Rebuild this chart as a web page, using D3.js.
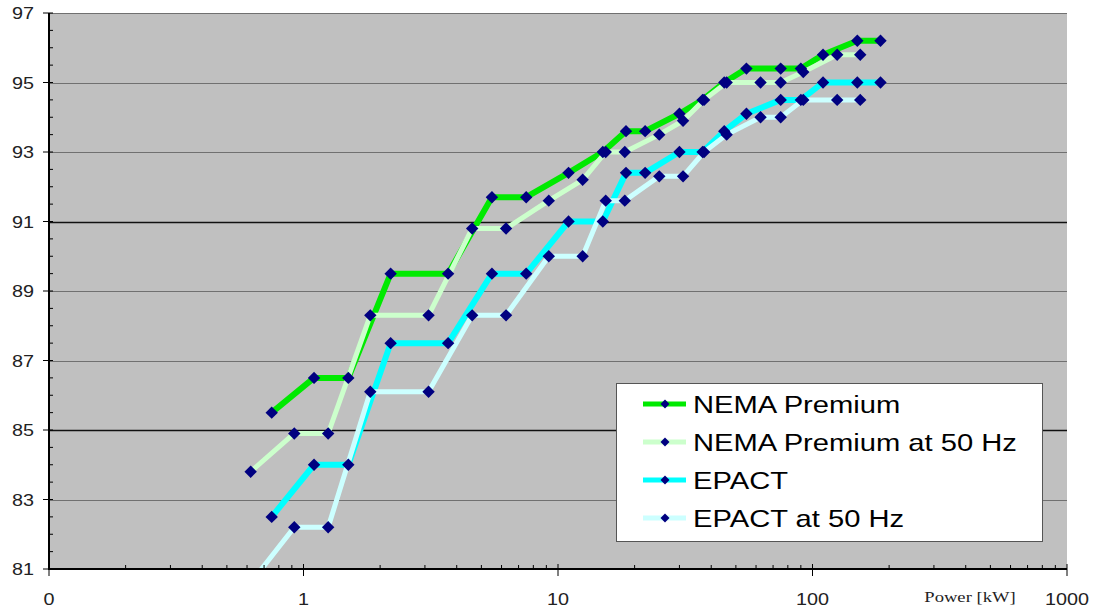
<!DOCTYPE html>
<html>
<head>
<meta charset="utf-8">
<script src="https://cdn.jsdelivr.net/npm/d3@7"></script>
<style>
  html, body { margin: 0; padding: 0; background: #ffffff; }
  svg { display: block; }
</style>
</head>
<body>
<svg id="chart" width="1099" height="611"></svg>
<script>
// ---- data ----
const kW60 = [0.75, 1.1, 1.5, 2.2, 3.7, 5.5, 7.5, 11, 15, 18.5, 22, 30, 37, 45, 55, 75, 90, 110, 150, 185];
const kW50 = [0.62, 0.92, 1.25, 1.83, 3.1, 4.6, 6.25, 9.2, 12.5, 15.4, 18.3, 25, 31, 37.5, 46, 62.5, 75, 92, 125, 154];
const nemaPremium   = [85.5, 86.5, 86.5, 89.5, 89.5, 91.7, 91.7, 92.4, 93.0, 93.6, 93.6, 94.1, 94.5, 95.0, 95.4, 95.4, 95.4, 95.8, 96.2, 96.2];
const nemaPremium50 = [83.8, 84.9, 84.9, 88.3, 88.3, 90.8, 90.8, 91.6, 92.2, 93.0, 93.0, 93.5, 93.9, 94.5, 95.0, 95.0, 95.0, 95.3, 95.8, 95.8];
const epact         = [82.5, 84.0, 84.0, 87.5, 87.5, 89.5, 89.5, 91.0, 91.0, 92.4, 92.4, 93.0, 93.0, 93.6, 94.1, 94.5, 94.5, 95.0, 95.0, 95.0];
const epact50       = [80.6, 82.2, 82.2, 86.1, 86.1, 88.3, 88.3, 90.0, 90.0, 91.6, 91.6, 92.3, 92.3, 93.0, 93.5, 94.0, 94.0, 94.5, 94.5, 94.5];
const seriesNames = ["NEMA Premium", "NEMA Premium at 50 Hz", "EPACT", "EPACT at 50 Hz"];
const xTickValues = [0.1, 1, 10, 100, 1000];
const xTickLabels = ["0", "1", "10", "100", "1000"];
const yTickValues = [81, 83, 85, 87, 89, 91, 93, 95, 97];
const xAxisTitle = "Power [kW]";

// ---- styles ----
const seriesStyle = [
  { color: "#00ea00", width: 6 },
  { color: "#ccffcc", width: 5 },
  { color: "#00ffff", width: 6 },
  { color: "#ccffff", width: 5 }
];
const markerColor = "#000080";
const SX = 1.2; // horizontal stretch of text, as in the reference

const series = [
  { name: seriesNames[0], x: kW60, y: nemaPremium },
  { name: seriesNames[1], x: kW50, y: nemaPremium50 },
  { name: seriesNames[2], x: kW60, y: epact },
  { name: seriesNames[3], x: kW50, y: epact50 }
];

const svg = d3.select("#chart");
const L = 49, R = 1067, T = 13, B = 569;

const x = d3.scaleLog().domain([0.1, 1000]).range([L, R]);
const y = d3.scaleLinear().domain([81, 97]).range([B, T]);

function stretchedText(g, tx, ty, txt, size, anchor, family, fill, sx) {
  return g.append("text")
    .attr("transform", `translate(${tx},${ty}) scale(${sx || SX},1)`)
    .attr("text-anchor", anchor)
    .attr("font-family", family)
    .attr("font-size", size)
    .attr("fill", fill)
    .text(txt);
}

// plot background
svg.append("rect").attr("x", L).attr("y", T).attr("width", R - L).attr("height", B - T)
  .attr("fill", "#c0c0c0");

// horizontal gridlines
const gridG = svg.append("g");
yTickValues.filter(v => v > 81).forEach(v => {
  const dark = (v === 91 || v === 85);
  gridG.append("line")
    .attr("x1", L).attr("x2", R)
    .attr("y1", Math.round(y(v)) + 0.5).attr("y2", Math.round(y(v)) + 0.5)
    .attr("stroke", dark ? "#111111" : "#707070")
    .attr("stroke-width", dark ? 1.3 : 1.2);
});

// clip
svg.append("clipPath").attr("id", "plotclip")
  .append("rect").attr("x", L).attr("y", T).attr("width", R - L).attr("height", B - T);

const plotG = svg.append("g").attr("clip-path", "url(#plotclip)");

const line = d3.line().x(d => x(d[0])).y(d => y(d[1]));

series.forEach((s, i) => {
  const pts = s.x.map((v, j) => [v, s.y[j]]);
  plotG.append("path")
    .datum(pts)
    .attr("d", line)
    .attr("fill", "none")
    .attr("stroke", seriesStyle[i].color)
    .attr("stroke-width", seriesStyle[i].width)
    .attr("stroke-linejoin", "round")
    .attr("stroke-linecap", "butt");
});

function diamond(r) {
  return `M0,${-r}L${r},0L0,${r}L${-r},0Z`;
}

series.forEach((s, i) => {
  const pts = s.x.map((v, j) => [v, s.y[j]]);
  plotG.selectAll(null).data(pts).enter().append("path")
    .attr("d", diamond(6.2))
    .attr("transform", d => `translate(${x(d[0])},${y(d[1])})`)
    .attr("fill", markerColor);
});

// axes
const axG = svg.append("g");
axG.append("line").attr("x1", L).attr("x2", L).attr("y1", T).attr("y2", B + 1)
  .attr("stroke", "#000").attr("stroke-width", 2);
d3.range(81, 97.01, 0.5).forEach(v => {
  axG.append("line").attr("x1", L).attr("x2", L + 4)
    .attr("y1", y(v)).attr("y2", y(v)).attr("stroke", "#000").attr("stroke-width", 1);
});
yTickValues.forEach(v => {
  axG.append("line").attr("x1", L - 6).attr("x2", L)
    .attr("y1", y(v)).attr("y2", y(v)).attr("stroke", "#000").attr("stroke-width", 1);
  stretchedText(axG, 34, y(v) + 6, String(v), 16.5, "end", "Liberation Sans, Arial, sans-serif", "#222");
});

axG.append("line").attr("x1", L - 1).attr("x2", R).attr("y1", B).attr("y2", B)
  .attr("stroke", "#000").attr("stroke-width", 2);
[0.1, 1, 10, 100].forEach(dec => {
  d3.range(2, 10).forEach(m => {
    const xv = x(dec * m);
    axG.append("line").attr("x1", xv).attr("x2", xv).attr("y1", B).attr("y2", B - 4)
      .attr("stroke", "#000").attr("stroke-width", 1);
  });
});
xTickValues.forEach((v, i) => {
  const xv = x(v);
  axG.append("line").attr("x1", xv).attr("x2", xv).attr("y1", B - 5).attr("y2", B + 7)
    .attr("stroke", "#000").attr("stroke-width", 1);
  stretchedText(axG, xv, 605, xTickLabels[i], 16.5, "middle", "Liberation Sans, Arial, sans-serif", "#222");
});
stretchedText(axG, 970, 602, xAxisTitle, 15.5, "middle", "Liberation Serif, Times New Roman, serif", "#222");

// legend
const legG = svg.append("g");
const LX = 616, LY = 383, LW = 426, LH = 158;
legG.append("rect").attr("x", LX + 0.5).attr("y", LY + 0.5).attr("width", LW).attr("height", LH)
  .attr("fill", "#ffffff").attr("stroke", "#555").attr("stroke-width", 1);
const rowY = [404, 442, 480, 518];
series.forEach((s, i) => {
  const ry = rowY[i];
  legG.append("line").attr("x1", 643).attr("x2", 686).attr("y1", ry).attr("y2", ry)
    .attr("stroke", seriesStyle[i].color).attr("stroke-width", 5);
  legG.append("path").attr("d", diamond(4.5)).attr("transform", `translate(665,${ry})`)
    .attr("fill", markerColor);
  stretchedText(legG, 693, ry + 9, s.name, 24, "start", "Liberation Sans, Arial, sans-serif", "#000", 1.215);
});
</script>
</body>
</html>
